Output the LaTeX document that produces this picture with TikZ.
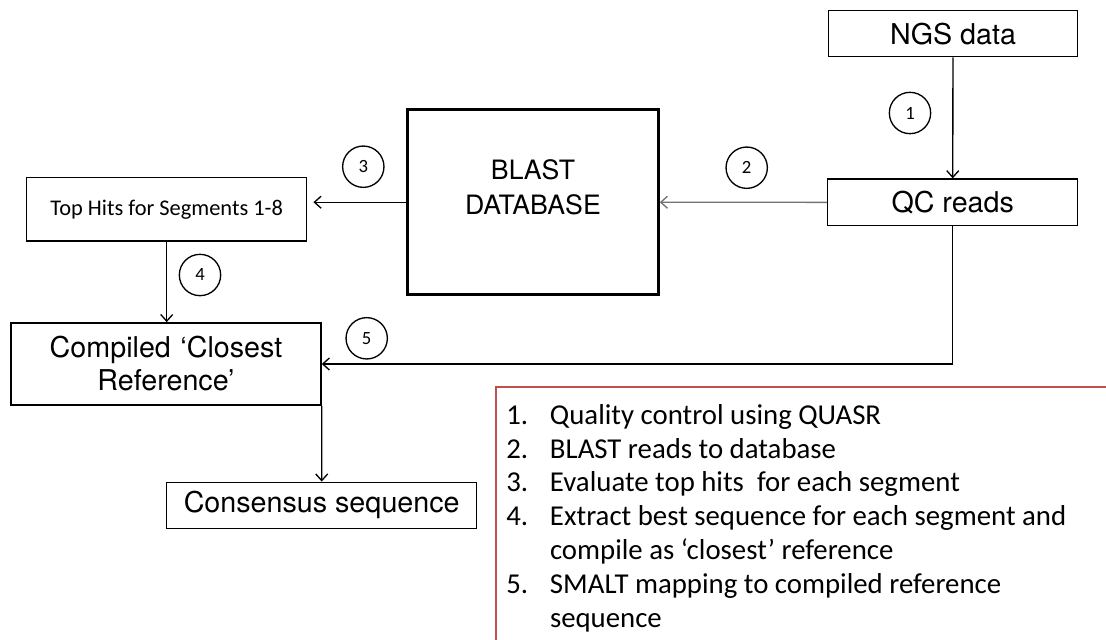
\documentclass[tikz,border=0pt]{standalone}
\usepackage{fontspec}
\setmainfont{TeX Gyre Heros}
\newfontfamily\calibfont{Carlito}
\usetikzlibrary{arrows.meta}
\definecolor{legendRed}{RGB}{192,80,77}

\begin{document}
\begin{tikzpicture}[x = 0.75pt, y = -0.75pt]
	\tikzstyle{boxStyle}=[shape = rectangle, draw, line width = 1.1pt, inner sep = 0pt, align = center, font = \fontsize{21.5pt}{24.75pt}\selectfont]
	\tikzstyle{dbStyle}=[shape = rectangle, draw, line width = 2.2pt, minimum width = 188pt, minimum height = 139pt]
	\tikzstyle{stepStyle}=[shape = circle, draw, line width = 1pt, minimum size = 31pt, inner sep = 0pt, font = \calibfont\fontsize{14pt}{14pt}\selectfont]
	\tikzstyle{arrowStyle}=[line width = 1pt, -{Straight Barb[length = 5pt, width = 9pt]}]
	\useasboundingbox (0,0) rectangle (1106,639);
	\node[boxStyle, minimum width = 187pt, minimum height = 34.5pt] (ngs) at (953, 33.7) {NGS data};
	\node[boxStyle, minimum width = 187.5pt, minimum height = 35pt] (qc) at (952.7, 202.4) {QC reads};
	\node[dbStyle] (blast) at (533, 202.2) {};
	\node[align = center, font = \fontsize{20pt}{26pt}\selectfont] (blastText) at (533, 187.5) {BLAST\\DATABASE};
	\node[boxStyle, minimum width = 210pt, minimum height = 47.5pt, font = \calibfont\fontsize{16.8pt}{20pt}\selectfont] (hits) at (166.7, 209.3) {Top Hits for Segments 1-8};
	\node[boxStyle, text width = 232.5pt, minimum height = 61.7pt] (compiled) at (166, 364) {Compiled ‘Closest\\Reference’};
	\node[boxStyle, minimum width = 232.5pt, minimum height = 34.5pt] (consensus) at (321.7, 505.3) {Consensus sequence};
	\node[stepStyle] (s1) at (910, 113) {1};
	\node[stepStyle] (s2) at (746.7, 167.7) {2};
	\node[stepStyle] (s3) at (363.3, 166.7) {3};
	\node[stepStyle] (s4) at (200, 275) {4};
	\node[stepStyle] (s5) at (366.7, 338.3) {5};
	\draw[arrowStyle] (ngs) -- (qc);
	\draw[arrowStyle, draw = black!55] (qc) -- (blast);
	\draw[arrowStyle, shorten > = 4.5pt] (blast.west) -- (blast.west -| hits.east);
	\draw[arrowStyle] (hits.south) -- (hits.south |- compiled.north);
	\draw[arrowStyle] (qc.south) |- (compiled.east);
	\draw[arrowStyle] (compiled.south east) -- (consensus.north);
	% legend
	\draw[draw = legendRed, line width = 1.5pt] (496, 387) rectangle (1120, 660);
	\node[anchor = north west, inner sep = 0pt, align = left, font = \calibfont\fontsize{21.6pt}{25.35pt}\selectfont] (steps) at (506, 404) {\makebox[32.8pt][l]{1.}Quality control using QUASR\\
		\makebox[32.8pt][l]{2.}BLAST reads to database\\
		\makebox[32.8pt][l]{3.}Evaluate top hits\ \ for each segment\\
		\makebox[32.8pt][l]{4.}Extract best sequence for each segment and\\
		\hspace*{32.8pt}compile as ‘closest’ reference\\
		\makebox[32.8pt][l]{5.}SMALT mapping to compiled reference\\
		\hspace*{32.8pt}sequence};
\end{tikzpicture}
\end{document}
